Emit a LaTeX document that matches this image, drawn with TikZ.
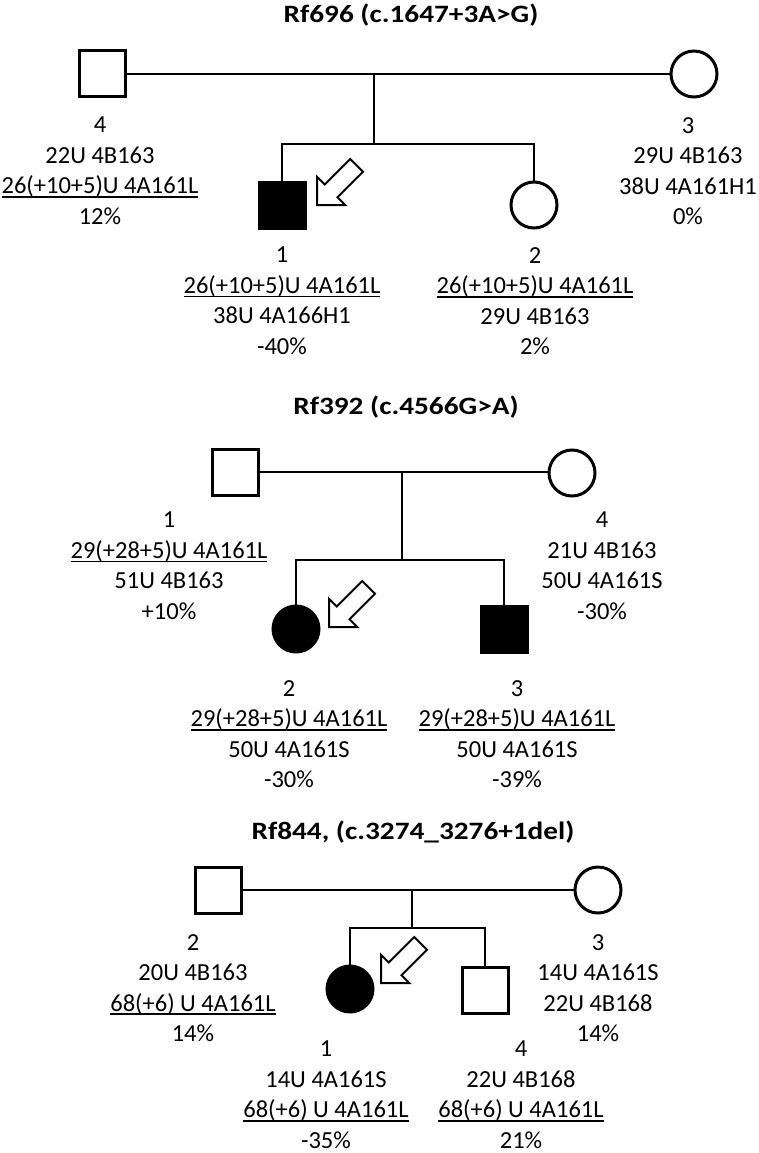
\documentclass[tikz,border=0pt]{standalone}
\usepackage{graphicx}
\usepackage{fontspec}
\setmainfont{Carlito}
\usetikzlibrary{calc}
\def\undl#1{\setbox0\hbox{#1}\rlap{\rule[-4pt]{\wd0}{1.8pt}}\box0}
\def\probarrow(#1){\draw[arrowline, shift={(#1)}, rotate=45] (0,0) -- (20,20) -- (20,9) -- (56,9) -- (56,-9) -- (20,-9) -- (20,-20) -- cycle;}
\tikzset{
	male/.style={draw, line width=3pt, rectangle, minimum size=46pt, inner sep=0pt},
	female/.style={draw, line width=3pt, circle, minimum size=46pt, inner sep=0pt},
	affected/.style={fill=black},
	kin/.style={line width=2.5pt},
	info/.style={anchor=north, align=center, inner sep=0pt, font=\fontsize{24.5}{30.5}\selectfont},
	pedtitle/.style={inner sep=0pt, font=\bfseries\fontsize{25}{30}\selectfont},
	arrowline/.style={line width=2pt, fill=white, line join=miter},
}

\begin{document}
\begin{tikzpicture}[x=1pt, y=-1pt]
		%%%%% START %%%%%
		\useasboundingbox (0,0) rectangle (758,1153);
		
		% Rf696
		\node[pedtitle] (t1) at (411,15) {\scalebox{1.17}[1]{Rf696 (c.1647+3A>G)}};
		\node[male] (f1) at (102,74) {};
		\node[female] (m1) at (694,74) {};
		\draw[kin] (f1) -- (m1);
		\coordinate (d1) at (374,74);
		\coordinate (s1) at (374,144);
		\draw[kin] (d1) -- (s1);
		\node[male, affected] (c11) at (282,205) {};
		\node[female] (c12) at (534,205) {};
		\draw[kin] (c11) |- (s1) -| (c12);
		\probarrow(317,205)
		
		\node[info] (lf1) at (100,117) {4\\22U 4B163\\\undl{26(+10+5)U 4A161L}\\12\%};
		\node[info] (lm1) at (688,117) {3\\29U 4B163\\38U 4A161H1\\0\%};
		\node[info] (lc11) at (282,247) {1\\\undl{26(+10+5)U 4A161L}\\38U 4A166H1\\-40\%};
		\node[info] (lc12) at (535,247) {2\\\undl{26(+10+5)U 4A161L}\\29U 4B163\\2\%};
		
		% Rf392
		\node[pedtitle] (t2) at (406,407) {\scalebox{1.17}[1]{Rf392 (c.4566G>A)}};
		\node[male] (f2) at (235,472) {};
		\node[female] (m2) at (572,473) {};
		\draw[kin] (f2) -- (f2 -| m2.west);
		\coordinate (d2) at (402,472);
		\coordinate (s2) at (402,560);
		\draw[kin] (d2) -- (s2);
		\node[female, affected] (c21) at (296,629) {};
		\node[male, affected] (c22) at (504,629) {};
		\draw[kin] (c21) |- (s2) -| (c22);
		\probarrow(329,627)
		
		\node[info] (lf2) at (169,512) {1\\\undl{29(+28+5)U 4A161L}\\51U 4B163\\+10\%};
		\node[info] (lm2) at (602,512) {4\\21U 4B163\\50U 4A161S\\-30\%};
		\node[info] (lc21) at (289,680) {2\\\undl{29(+28+5)U 4A161L}\\50U 4A161S\\-30\%};
		\node[info] (lc22) at (517,680) {3\\\undl{29(+28+5)U 4A161L}\\50U 4A161S\\-39\%};
		
		% Rf844
		\node[pedtitle] (t3) at (413,832) {\scalebox{1.17}[1]{Rf844, (c.3274\_3276+1del)}};
		\node[male] (f3) at (218,890) {};
		\node[female] (m3) at (598,890) {};
		\draw[kin] (f3) -- (m3);
		\coordinate (d3) at (412,890);
		\coordinate (s3) at (412,928);
		\draw[kin] (d3) -- (s3);
		\node[female, affected] (c31) at (350,989) {};
		\node[male] (c32) at (485,990) {};
		\draw[kin] (c31) |- (s3) -| (c32);
		\probarrow(381,983)
		
		\node[info] (lf3) at (193,934) {2\\20U 4B163\\\undl{68(+6) U 4A161L}\\14\%};
		\node[info] (lm3) at (598,934) {3\\14U 4A161S\\22U 4B168\\14\%};
		\node[info] (lc31) at (326,1041) {1\\14U 4A161S\\\undl{68(+6) U 4A161L}\\-35\%};
		\node[info] (lc32) at (521,1041) {4\\22U 4B168\\\undl{68(+6) U 4A161L}\\21\%};
		
		%%%%% END %%%%%
\end{tikzpicture}
\end{document}
